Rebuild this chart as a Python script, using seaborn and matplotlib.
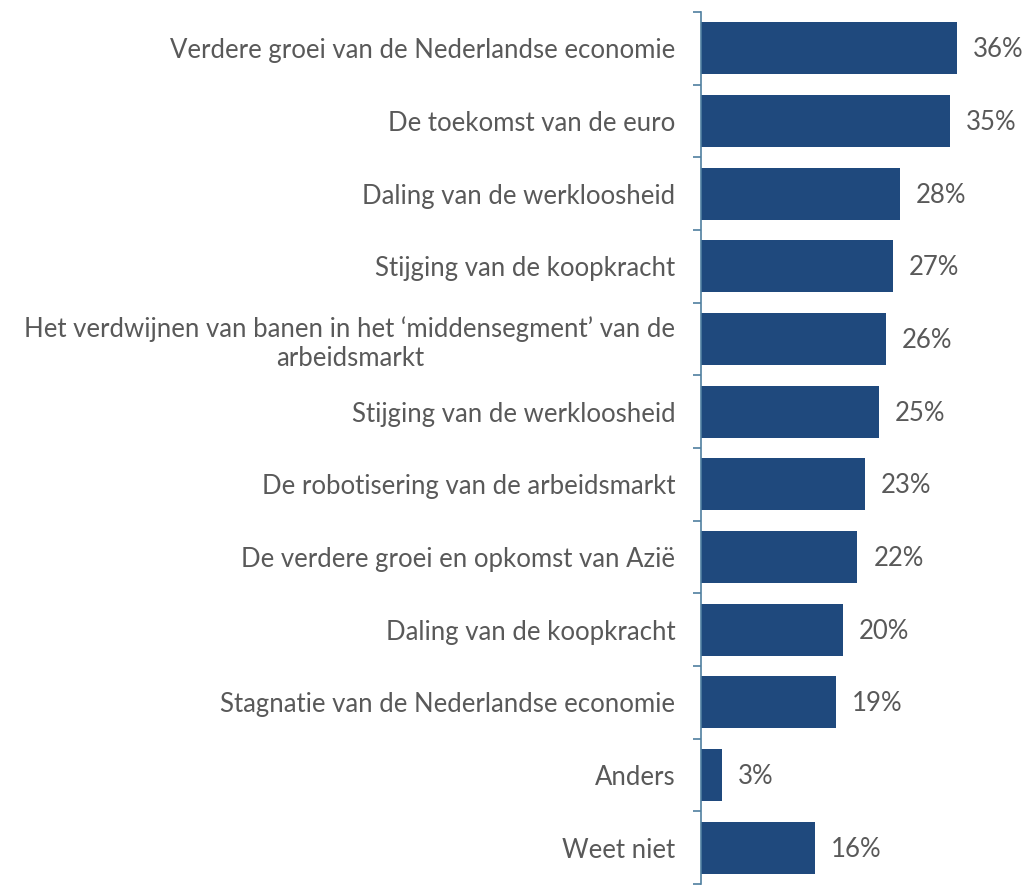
import matplotlib
matplotlib.use("Agg")
import matplotlib.pyplot as plt
import seaborn as sns
import pandas as pd

categories = [
    "Verdere groei van de Nederlandse economie",
    "De toekomst van de euro",
    "Daling van de werkloosheid",
    "Stijging van de koopkracht",
    "Het verdwijnen van banen in het \u2018middensegment\u2019 van de\narbeidsmarkt",
    "Stijging van de werkloosheid",
    "De robotisering van de arbeidsmarkt",
    "De verdere groei en opkomst van Azi\u00eb",
    "Daling van de koopkracht",
    "Stagnatie van de Nederlandse economie",
    "Anders",
    "Weet niet",
]
values = [36, 35, 28, 27, 26, 25, 23, 22, 20, 19, 3, 16]
value_labels = [f"{v}%" for v in values]

df = pd.DataFrame({"cat": categories, "val": values})

sns.set_theme(style="white")
plt.rcParams["font.family"] = ["Lato", "DejaVu Sans"]

fig = plt.figure(figsize=(10.24, 8.86), dpi=100)
ax = fig.add_axes([701 / 1024, 2 / 886, 320 / 1024, 872 / 886])

sns.barplot(data=df, x="val", y="cat", orient="h", color="#1F497D",
            saturation=1, width=0.72, ax=ax, edgecolor="none")

ax.set_xlim(0, 45)
ax.set_ylim(len(categories) - 0.5, -0.5)
ax.set_xlabel("")
ax.set_ylabel("")
ax.set_xticks([])

for s in ["top", "right", "bottom"]:
    ax.spines[s].set_visible(False)
ax.spines["left"].set_color("#4F7FA0")
ax.spines["left"].set_linewidth(1.2)

FS = 18.5

# category labels
ax.set_yticks(range(len(categories)))
ax.set_yticklabels(categories, fontsize=FS, color="#595959", ha="right",
                   multialignment="center", linespacing=1.2)
ax.tick_params(axis="y", length=0, pad=18.5)

# minor ticks at boundaries
ax.set_yticks([i - 0.5 for i in range(len(categories) + 1)], minor=True)
ax.tick_params(axis="y", which="minor", length=6, width=1.2, color="#4F7FA0",
               direction="out", left=True)

for i, (v, lab) in enumerate(zip(values, value_labels)):
    ax.annotate(lab, xy=(v, i), xytext=(11.5, -1), textcoords="offset points",
                va="center", ha="left", fontsize=FS, color="#595959")

fig.savefig("out.png", dpi=100)
